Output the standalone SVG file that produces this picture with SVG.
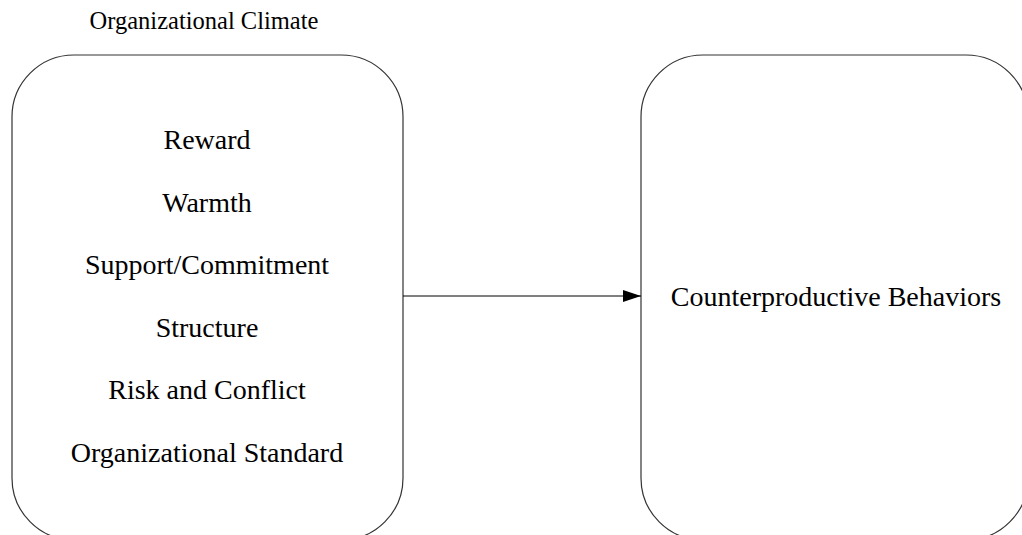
<svg xmlns="http://www.w3.org/2000/svg" width="1022" height="535" viewBox="0 0 1022 535">
  <style>
    .box { fill: #ffffff; stroke: #333333; stroke-width: 1.2; }
    .lbl { font-family: "Liberation Serif", "Times New Roman", serif; fill: #000000; text-anchor: middle; }
    .item { font-size: 28px; }
    .title { font-size: 24.5px; }
    .edge { stroke: #000000; stroke-width: 1; fill: none; }
  </style>
  <defs>
    <marker id="arrow" markerWidth="18" markerHeight="12" refX="18" refY="6" orient="auto" markerUnits="userSpaceOnUse">
      <path d="M0,0 L18,6 L0,12 Z" fill="#000000"/>
    </marker>
  </defs>
  <rect width="1022" height="535" fill="#ffffff"/>

  <!-- Organizational climate dimensions -->
  <g id="node-climate">
    <text class="lbl title" x="204" y="28.5">Organizational Climate</text>
    <rect class="box" x="12" y="55" width="391" height="485" rx="62" ry="62"/>
    <text class="lbl item" x="207" y="149">Reward</text>
    <text class="lbl item" x="207" y="212">Warmth</text>
    <text class="lbl item" x="207" y="274">Support/Commitment</text>
    <text class="lbl item" x="207" y="337">Structure</text>
    <text class="lbl item" x="207" y="399">Risk and Conflict</text>
    <text class="lbl item" x="207" y="462">Organizational Standard</text>
  </g>

  <!-- Outcome -->
  <g id="node-behaviors">
    <rect class="box" x="641" y="55" width="387" height="485" rx="62" ry="62"/>
    <text class="lbl item" x="836" y="306">Counterproductive Behaviors</text>
  </g>

  <g id="connectors">
    <line class="edge" x1="403" y1="296" x2="641" y2="296" marker-end="url(#arrow)"/>
  </g>
</svg>
